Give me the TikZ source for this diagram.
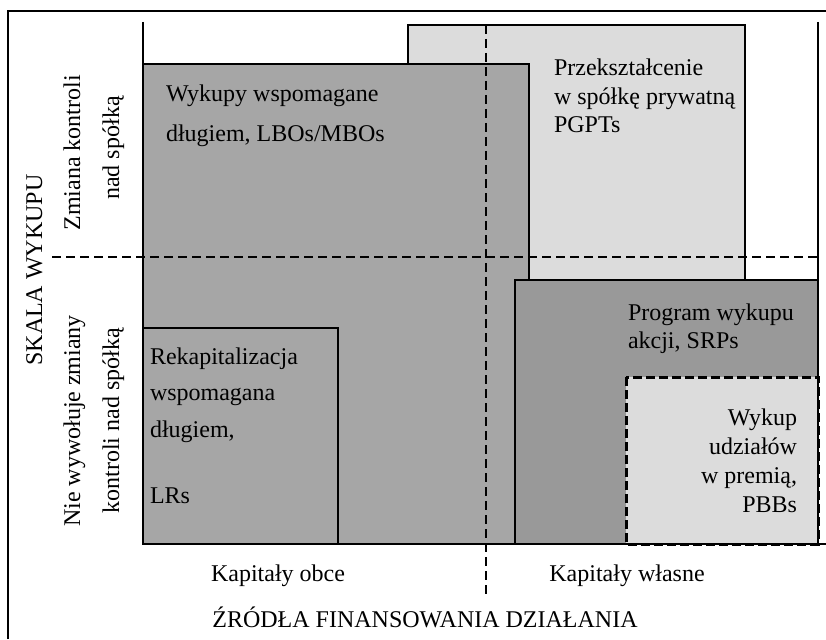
\documentclass[tikz,border=0pt]{standalone}
\usepackage{fontspec}
\setmainfont{Liberation Serif}
\begin{document}
\begin{tikzpicture}[x=1pt,y=-1pt,
  every node/.style={font=\fontsize{24}{28}\selectfont, inner sep=0pt, outer sep=0pt},
  box/.style={draw=black, line width=2.1pt},
  axis/.style={draw=black, line width=2.1pt},
  divider/.style={draw=black, line width=2.1pt, dash pattern=on 9pt off 5pt},
  txt/.style={anchor=base west},
  rtxt/.style={anchor=base east},
  ctxt/.style={anchor=base},
  vtxt/.style={anchor=base, rotate=90}]
\useasboundingbox (0,0) rectangle (826,639);
\fill[white] (0,0) rectangle (826,639);
% outer frame (top and left only visible)
\draw[line width=2.5pt] (8,639) -- (8,11) -- (830,11);
% axes
\coordinate (tl) at (143,22);
\coordinate (bl) at (143,544);
\coordinate (tr) at (818,22);
\coordinate (br) at (818,544);
\coordinate (be) at (826,544);
% boxes
\path[box, fill={rgb,255:red,220;green,220;blue,220}] (408,25) rectangle (745,290);
\path[box, fill={rgb,255:red,166;green,166;blue,166}] (143,64) rectangle (529,544);
\path[box, fill={rgb,255:red,153;green,153;blue,153}] (515,280) rectangle (818,544);
\path[draw=black, line width=3pt, dash pattern=on 9pt off 4pt, fill={rgb,255:red,220;green,220;blue,220}] (626,377) rectangle (818,544);
\path[box, fill={rgb,255:red,166;green,166;blue,166}] (143,328) rectangle (338,544);
\draw[axis] (tl) -- (bl) -- (be);
\draw[axis] (tr) -- (br);
% dividers
\coordinate (hd1) at (52,257);
\coordinate (hd2) at (818,257);
\coordinate (vd1) at (486,25);
\coordinate (vd2) at (486,598);
\draw[divider] (hd1) -- (hd2);
\draw[divider] (vd1) -- (vd2);
% box labels
\node[txt] (lbo1) at (166,102) {Wykupy wspomagane};
\node[txt] (lbo2) at (166,142) {długiem, LBOs/MBOs};
\node[txt] (pg1) at (554,76) {Przekształcenie};
\node[txt] (pg2) at (554,105) {w spółkę prywatną};
\node[txt] (pg3) at (554,133) {PGPTs};
\node[txt] (lr1) at (150,364) {Rekapitalizacja};
\node[txt] (lr2) at (150,400) {wspomagana};
\node[txt] (lr3) at (150,437) {długiem,};
\node[txt] (lr4) at (150,503) {LRs};
\node[txt] (sr1) at (628,320) {Program wykupu};
\node[txt] (sr2) at (628,348) {akcji, SRPs};
\node[rtxt] (pb1) at (797,425) {Wykup};
\node[rtxt] (pb2) at (797,454) {udziałów};
\node[rtxt] (pb3) at (797,483) {w premią,};
\node[rtxt] (pb4) at (797,512) {PBBs};
% axis labels
\node[ctxt] (ko) at (278,581) {Kapitały obce};
\node[ctxt] (kw) at (627,581) {Kapitały własne};
\node[ctxt] (zr) at (425,627) {ŹRÓDŁA FINANSOWANIA DZIAŁANIA};
\node[vtxt] (sk) at (42,270) {SKALA WYKUPU};
\node[vtxt] (zm1) at (80,153) {Zmiana kontroli};
\node[vtxt] (zm2) at (119,148) {nad spółką};
\node[vtxt] (nw1) at (80,421) {Nie wywołuje zmiany};
\node[vtxt] (nw2) at (119,421) {kontroli nad spółką};
\end{tikzpicture}
\end{document}
